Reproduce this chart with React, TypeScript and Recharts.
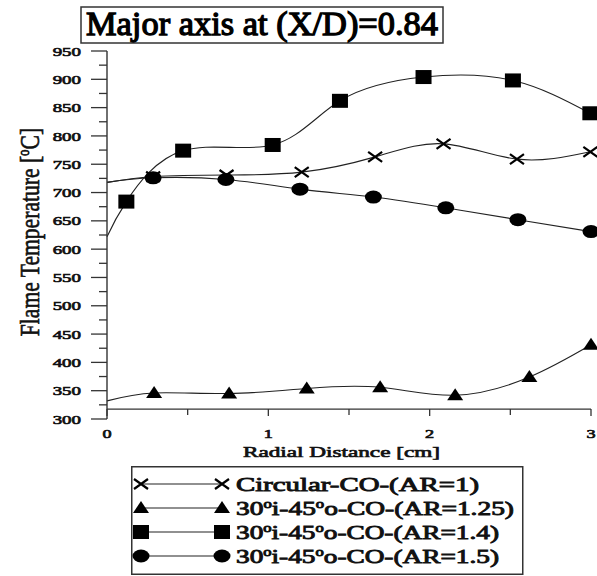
import React from 'react';
import { LineChart, Line, XAxis, YAxis, ReferenceLine, Legend } from 'recharts';

// radial distance [cm] / flame temperature [°C]
const circularX = [0, 0.286, 0.741, 1.207, 1.662, 2.086, 2.541, 2.996];
const circularY = [718, 728, 731, 736, 763, 786, 759, 772];
const ar125X = [0, 0.292, 0.757, 1.238, 1.693, 2.158, 2.618, 3.0];
const ar125Y = [332, 346, 345, 354, 356, 342, 374, 431];
const ar14X = [0, 0.12, 0.472, 1.027, 1.444, 1.962, 2.516, 2.996];
const ar14Y = [622, 684, 774, 784, 862, 904, 898, 840];
const ar15X = [0, 0.286, 0.737, 1.196, 1.651, 2.1, 2.547, 3.0];
const ar15Y = [718, 726, 723, 706, 692, 673, 652, 631];

const X_TICKS = [0, 0.5, 1, 1.5, 2, 2.5, 3];
const Y_TICKS = [300, 325, 350, 375, 400, 425, 450, 475, 500, 525, 550, 575, 600, 625, 650, 675, 700, 725, 750, 775, 800, 825, 850, 875, 900, 925, 950];
const X_AXIS_AT = 317.5; // the x axis crosses a bit above the bottom of the y range

const TITLE = 'Major axis at (X/D)=0.84';
const X_TITLE = 'Radial Distance [cm]';

type Kind = 'cross' | 'triangle' | 'square' | 'circle';

const SERIES: { key: string; kind: Kind; xs: number[]; ys: number[]; ar: string; circular?: boolean; w: number }[] = [
  { key: 'circ', kind: 'cross', xs: circularX, ys: circularY, ar: '1', circular: true, w: 243 },
  { key: 'ar125', kind: 'triangle', xs: ar125X, ys: ar125Y, ar: '1.25', w: 278 },
  { key: 'ar14', kind: 'square', xs: ar14X, ys: ar14Y, ar: '1.4', w: 263 },
  { key: 'ar15', kind: 'circle', xs: ar15X, ys: ar15Y, ar: '1.5', w: 263 },
];

const FONT = 'Liberation Serif';
const AXIS = '#333';

// no bold serif face here, so thicken the regular one with a stroke
const bold = (size: number, sw = 0.7) => ({
  style: { fontFamily: FONT, fontWeight: 400, fontSize: size },
  fill: '#111',
  stroke: '#111',
  strokeWidth: sw,
});

const Marker = ({ kind, cx, cy }: { kind: Kind; cx: number; cy: number }) => {
  if (kind === 'cross')
    return <path d={`M${cx - 7},${cy - 5}L${cx + 7},${cy + 5}M${cx - 7},${cy + 5}L${cx + 7},${cy - 5}`} stroke="#000" strokeWidth={2.2} />;
  if (kind === 'triangle') return <path d={`M${cx},${cy - 7}L${cx + 8},${cy + 5}L${cx - 8},${cy + 5}Z`} fill="#000" />;
  if (kind === 'square') return <rect x={cx - 8} y={cy - 7} width={16} height={14} fill="#000" />;
  return <ellipse cx={cx} cy={cy} rx={8.5} ry={6.5} fill="#000" />;
};

const makeDot = (kind: Kind) => (p: any) =>
  p.index === 0 ? <g key={p.index} /> : <Marker key={p.index} kind={kind} cx={p.cx} cy={p.cy} />;

const YTick = ({ x, y, payload }: any) => {
  const major = payload.value % 50 === 0;
  return (
    <g>
      <line x1={x - (major ? 16 : 8)} x2={x} y1={y} y2={y} stroke={AXIS} strokeWidth={1.3} />
      {major && (
        <text transform={`translate(${x - 26},${y + 4.6}) scale(1.4,1)`} textAnchor="end" {...bold(13.5, 0.7)}>
          {payload.value}
        </text>
      )}
    </g>
  );
};

const XTick = ({ x, y, payload }: any) => {
  const major = Number.isInteger(payload.value);
  return (
    <g>
      <line x1={x} x2={x} y1={y - 10} y2={y - 10 + (major ? 7 : 6)} stroke={AXIS} strokeWidth={1.3} />
      {major && (
        <text transform={`translate(${x},${y + 19}) scale(1.4,1)`} textAnchor="middle" {...bold(13, 0.7)}>
          {payload.value}
        </text>
      )}
    </g>
  );
};

const XTitle = () => (
  <text x={243} y={457} textLength={197} lengthAdjust="spacingAndGlyphs" {...bold(15.5, 0.7)}>
    {X_TITLE}
  </text>
);

const YTitle = ({ viewBox }: any) => (
  <g transform={`translate(30,${viewBox.y + viewBox.height / 2 - 3}) scale(1.31,1) rotate(-90)`}>
    <text x={0} y={7} textAnchor="middle" {...bold(21.6, 0.5)}>
      Flame Temperature [<tspan fontSize={13} dy={-8}>o</tspan><tspan dy={8}>C]</tspan>
    </text>
  </g>
);

const LegendLabel = ({ s }: { s: (typeof SERIES)[number] }) =>
  s.circular ? (
    <>Circular-CO-(AR={s.ar})</>
  ) : (
    <>
      30<tspan fontSize={12} dy={-7}>o</tspan>
      <tspan dy={7}>i-45</tspan>
      <tspan fontSize={12} dy={-7}>o</tspan>
      <tspan dy={7}>o-CO-(AR={s.ar})</tspan>
    </>
  );

const LegendBox = () => (
  <svg width={393} height={109} style={{ display: 'block' }}>
    <rect x={0.75} y={0.75} width={391} height={107.5} fill="#fff" stroke={AXIS} strokeWidth={1.5} />
    {SERIES.map((s, i) => {
      const cy = 18 + 24 * i;
      return (
        <g key={s.key}>
          <line x1={10} x2={91} y1={cy} y2={cy} stroke="#222" strokeWidth={1.1} />
          <Marker kind={s.kind} cx={10} cy={cy} />
          <Marker kind={s.kind} cx={91} cy={cy} />
          <text x={105} y={cy + 6.5} textLength={s.w} lengthAdjust="spacingAndGlyphs" {...bold(19.8, 0.9)}>
            <LegendLabel s={s} />
          </text>
        </g>
      );
    })}
  </svg>
);

export default function App() {
  return (
    <div style={{ position: 'absolute', left: 0, top: 0, width: 597, height: 576, background: '#fff', fontFamily: FONT }}>
      <LineChart width={597} height={576} margin={{ top: 51, right: 6, bottom: 117, left: 0 }}>
        <XAxis
          type="number"
          dataKey="x"
          domain={[0, 3]}
          ticks={X_TICKS}
          interval={0}
          axisLine={false}
          tickLine={false}
          tickSize={0}
          tickMargin={0}
          height={40}
          tick={<XTick />}
          label={() => <XTitle />}
        />
        <YAxis
          type="number"
          domain={[300, 950]}
          ticks={Y_TICKS}
          interval={0}
          width={107}
          axisLine={{ stroke: AXIS, strokeWidth: 1.4 }}
          tickLine={false}
          tickSize={0}
          tickMargin={0}
          tick={<YTick />}
          label={(p: any) => <YTitle {...p} />}
        />
        <ReferenceLine y={X_AXIS_AT} stroke={AXIS} strokeWidth={1.4} />
        {SERIES.map((s) => (
          <Line
            key={s.key}
            name={s.key}
            data={s.xs.map((x, i) => ({ x, y: s.ys[i] }))}
            dataKey="y"
            type="natural"
            stroke="#222"
            strokeWidth={1.1}
            dot={makeDot(s.kind)}
            activeDot={false}
            isAnimationActive={false}
          />
        ))}
        <Legend
          layout="vertical"
          align="center"
          verticalAlign="middle"
          content={() => <LegendBox />}
          wrapperStyle={{ left: 131, top: 466, width: 393, height: 109 }}
        />
      </LineChart>
      <svg width={597} height={50} style={{ position: 'absolute', left: 0, top: 0 }}>
        <rect x={81} y={7} width={362} height={36} fill="#fff" stroke={AXIS} strokeWidth={1.5} />
        <text x={86} y={35} textLength={352} lengthAdjust="spacingAndGlyphs" {...bold(34, 1.3)} fill="#000" stroke="#000">
          {TITLE}
        </text>
      </svg>
    </div>
  );
}
